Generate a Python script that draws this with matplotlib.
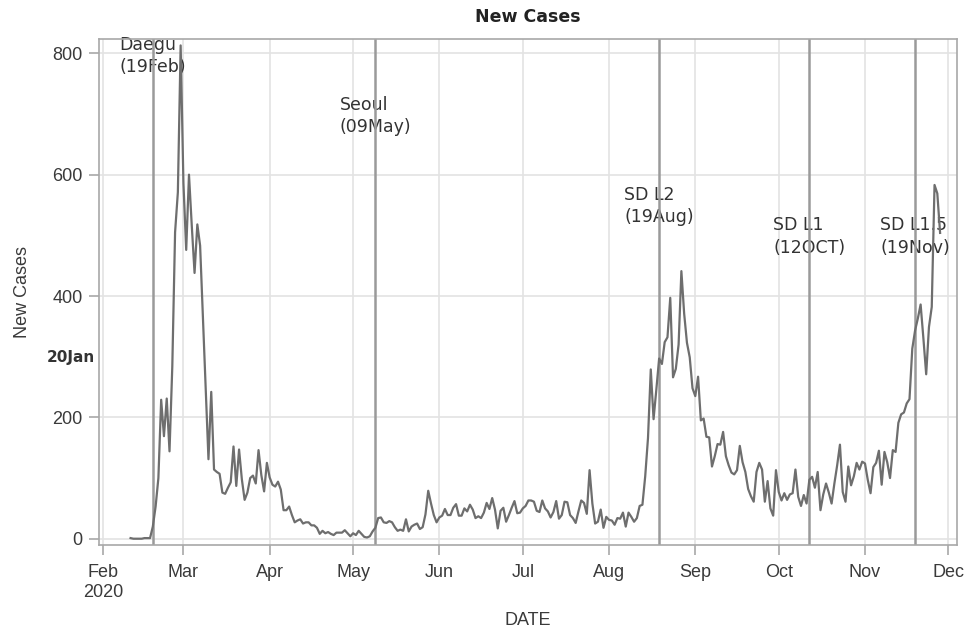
import pandas as pd
import numpy as np
import matplotlib
matplotlib.use("Agg")
from matplotlib import pyplot as plt
import matplotlib.transforms as mtransforms

# daily new cases, 11 Feb - 28 Nov 2020
feb = [1, 0, 0, 0, 0, 1, 1, 1, 20, 53, 100, 229, 169, 231, 144, 284, 505, 571, 813]
mar = [586, 476, 600, 516, 438, 518, 483, 367, 248, 131, 242, 114, 110, 107, 76, 74,
       84, 93, 152, 87, 147, 98, 64, 76, 100, 104, 91, 146, 105, 78, 125]
apr = [101, 89, 86, 94, 81, 47, 47, 53, 39, 27, 30, 32, 25, 27, 27, 22, 22, 18, 8, 13,
       9, 11, 8, 6, 10, 10, 10, 14, 9, 4]
may = [9, 6, 13, 8, 3, 2, 4, 12, 18, 34, 35, 27, 26, 29, 27, 19, 13, 15, 13, 32, 12,
       20, 23, 25, 16, 19, 40, 79, 58, 39, 27]
jun = [35, 38, 49, 39, 39, 51, 57, 38, 38, 50, 45, 56, 48, 34, 37, 34, 43, 59, 49, 67,
       48, 17, 46, 51, 28, 39, 51, 62, 42, 43]
jul = [50, 54, 63, 63, 61, 46, 44, 63, 50, 45, 35, 44, 62, 33, 39, 61, 60, 39, 34, 26,
       45, 63, 59, 41, 113, 58, 25, 28, 48, 18, 36]
aug = [31, 30, 23, 34, 33, 43, 20, 43, 36, 28, 34, 54, 56, 103, 166, 279, 197, 246,
       297, 288, 324, 332, 397, 266, 280, 320, 441, 371, 323, 299, 248]
sep = [235, 267, 195, 198, 168, 167, 119, 136, 156, 155, 176, 136, 121, 109, 106, 113,
       153, 126, 110, 82, 70, 61, 110, 125, 114, 61, 95, 50, 38, 113]
oct_ = [77, 63, 75, 64, 73, 75, 114, 69, 54, 72, 58, 97, 102, 84, 110, 47, 73, 91, 76,
        58, 91, 121, 155, 77, 61, 119, 88, 103, 125, 114, 127]
nov = [124, 97, 75, 118, 125, 145, 89, 143, 126, 100, 146, 143, 191, 205, 208, 223,
       230, 313, 343, 363, 386, 330, 271, 349, 382, 583, 569, 504]

event_dates = ["2020-02-19", "2020-05-09", "2020-08-19", "2020-10-12", "2020-11-19"]
event_labels = ["Daegu\n(19Feb)", "Seoul\n(09May)", "SD L2\n(19Aug)", "SD L1\n(12OCT)",
                "SD L1.5\n(19Nov)"]
event_label_y = [796, 697, 549, 498, 498]

cases = feb + mar + apr + may + jun + jul + aug + sep + oct_ + nov
dates = pd.date_range("2020-02-11", periods=len(cases), freq="D")
df = pd.DataFrame({"DATE": dates, "new": cases})

plt.rcParams["font.family"] = ["Liberation Sans", "DejaVu Sans"]

fig = plt.figure(figsize=(9.71, 6.35), dpi=100)
ax = fig.add_axes([0.102, 0.1417, 0.8836, 0.7969])

ax.plot(df["DATE"], df["new"], color="#6e6e6e", linewidth=1.6, zorder=3)

for d, lab, ly in zip(event_dates, event_labels, event_label_y):
    dt = pd.Timestamp(d)
    ax.axvline(dt, color="#9a9a9a", linewidth=1.8, zorder=2)
    ax.text(dt, ly, lab, ha="center", va="center", multialignment="left",
            fontsize=12.5, color="#333333", family="DejaVu Sans",
            linespacing=1.3, zorder=1)

trans = mtransforms.blended_transform_factory(ax.transAxes, ax.transData)
ax.text(-0.005, 298, "20Jan", transform=trans, ha="right", va="center",
        fontsize=11, fontweight="bold", color="#333333", family="DejaVu Sans",
        clip_on=False)

ax.set_xlim(pd.Timestamp("2020-01-30 16:00"), pd.Timestamp("2020-12-04 02:00"))
ax.set_ylim(-10.4, 823.6)

ticks = pd.date_range("2020-02-01", "2020-12-01", freq="MS")
ax.set_xticks(ticks)
ax.set_xticklabels(["Feb\n2020"] + [t.strftime("%b") for t in ticks[1:]])
ax.set_yticks([0, 200, 400, 600, 800])

ax.grid(True, color="#e3e3e3", linewidth=1.2, zorder=0)
ax.set_axisbelow(True)
for s in ax.spines.values():
    s.set_color("#a8a8a8")
    s.set_linewidth(1.2)
ax.tick_params(axis="both", colors="#a8a8a8", labelcolor="#3a3a3a", labelsize=13,
               length=7, width=1.2)
ax.tick_params(axis="x", pad=7)
ax.tick_params(axis="y", pad=5)

ax.set_title("New Cases", fontsize=12.5, fontweight="bold", family="DejaVu Sans",
             color="#222222", pad=12)
ax.set_xlabel("DATE", fontsize=13, color="#3a3a3a", labelpad=8)
ax.set_ylabel("New Cases", fontsize=13, color="#3a3a3a", labelpad=15)

plt.savefig("out.png", dpi=100)
plt.close()
